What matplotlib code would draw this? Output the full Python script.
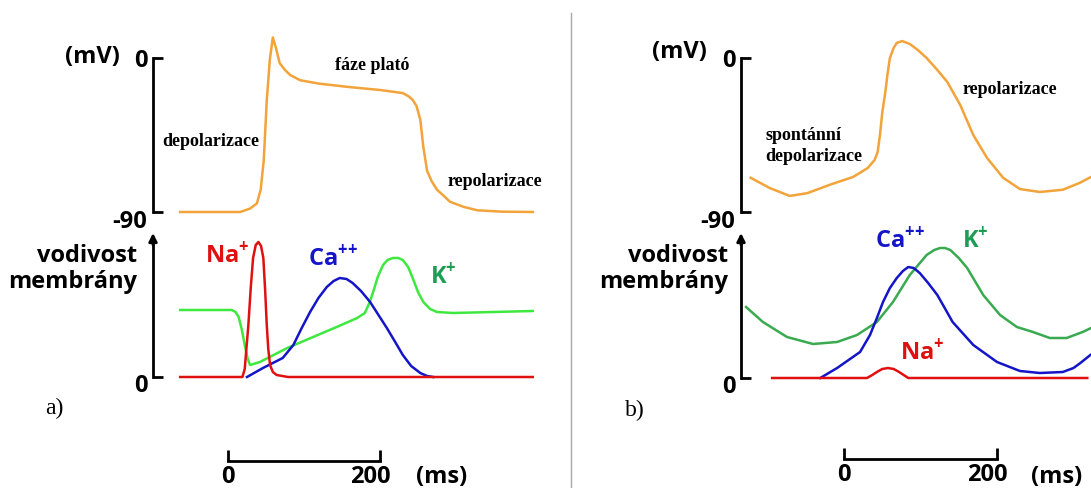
import matplotlib.pyplot as plt
import matplotlib.transforms as mtransforms
from matplotlib.lines import Line2D

W, H = 1091, 488

# a) working myocardium -- membrane potential (ms, mV)
a_t = [-63, 16, 29, 38, 43, 47, 51, 55, 59, 63, 68, 75, 82, 95, 120, 160, 200,
       230, 238, 243, 248, 253, 257, 262, 268, 275, 285, 292, 310, 328, 360, 401]
a_mv = [-90, -90, -88, -85, -77, -60, -25, -1, 12, 6, -3, -7, -10, -13, -15, -17,
        -18.7, -20.5, -22.5, -24.5, -28, -36, -52, -66, -72, -77, -81, -84, -87,
        -89, -89.8, -90]

# a) conductances (arbitrary units)
a_na_t = [-63, 19, 22, 26.8, 30, 33, 36.5, 40, 43.5, 46.5, 49, 51, 53, 55.3, 59, 64, 79, 401]
a_na = [0, 0, 0.08, 0.52, 0.9, 1.19, 1.32, 1.35, 1.31, 1.19, 0.85, 0.52, 0.28, 0.12,
        0.05, 0.02, 0, 0]
a_k_t = [-63, 5, 10, 14, 18, 22, 26, 29, 42, 78, 112, 143, 170, 180, 186, 191, 197,
         204, 210, 217, 224, 230, 237, 243, 250, 257, 266, 275, 296, 401]
a_k = [0.67, 0.67, 0.65, 0.60, 0.48, 0.32, 0.18, 0.12, 0.15, 0.29, 0.40, 0.50, 0.59,
       0.64, 0.74, 0.85, 1.0, 1.12, 1.17, 1.19, 1.19, 1.17, 1.10, 0.99, 0.85, 0.75,
       0.68, 0.65, 0.64, 0.66]
a_ca_t = [25, 46, 72, 86, 97, 108, 119, 130, 139, 147, 156, 164, 175, 187, 198, 209,
          220, 230, 241, 253, 262, 270]
a_ca = [0, 0.09, 0.19, 0.32, 0.49, 0.65, 0.79, 0.90, 0.96, 0.99, 0.98, 0.94, 0.86,
        0.75, 0.62, 0.49, 0.35, 0.22, 0.11, 0.04, 0.01, 0]

# b) pacemaker cell -- membrane potential (ms, mV)
b_t = [-122, -97, -71, -48, -18, 12, 31, 40, 44, 47, 50, 54, 57, 60, 65, 69, 76, 86,
       97, 108, 122, 135, 152, 169, 187, 208, 230, 256, 286, 308, 323]
b_mv = [-70, -76, -80.6, -79, -74, -69.5, -64.3, -59.6, -55, -45, -32, -20, -9, 0, 6,
        8.8, 9.9, 8.2, 4.5, 0, -7, -14, -27.5, -45, -58.4, -70, -76.6, -78.3, -77,
        -73, -69.5]

# b) conductances
b_k_t = [-128, -106, -74.5, -40.5, -9, 17, 43, 64, 86, 108, 118, 125.5, 132, 139, 150,
         161, 182, 204, 226, 247, 269, 291, 312, 323]
b_k = [0.71, 0.56, 0.41, 0.34, 0.36, 0.43, 0.56, 0.76, 1.03, 1.23, 1.28, 1.30, 1.30,
       1.28, 1.20, 1.10, 0.83, 0.63, 0.51, 0.46, 0.40, 0.40, 0.46, 0.50]
b_ca_t = [-31, -9, 21, 34, 43, 51, 60, 69, 77, 84, 91, 99, 110, 122, 142, 169, 200,
          230, 256, 286, 300, 309, 322]
b_ca = [0, 0.10, 0.26, 0.43, 0.60, 0.76, 0.90, 1.00, 1.07, 1.11, 1.10, 1.05, 0.95,
        0.83, 0.56, 0.33, 0.16, 0.07, 0.05, 0.06, 0.10, 0.15, 0.23]
b_na_t = [-94, 30, 37, 43, 50, 57.5, 65, 72, 78, 84, 318]
b_na = [0, 0, 0.03, 0.06, 0.09, 0.10, 0.09, 0.06, 0.03, 0, 0]

scale_ms = [0, 200]

ORANGE = '#f2a33a'
RED = '#e01010'
BLUE = '#1515c8'
GREEN_A = '#3ee83e'
GREEN_B = '#3aaa50'
GREEN_TXT = '#1e9e55'

plt.rcParams['font.family'] = ['Open Sans', 'DejaVu Sans']
plt.rcParams['mathtext.fontset'] = 'custom'
plt.rcParams['mathtext.rm'] = 'Open Sans:bold'
plt.rcParams['mathtext.bf'] = 'Open Sans:bold'
SERIF = ['Liberation Serif', 'DejaVu Serif']

fig = plt.figure(figsize=(W / 100, H / 100), dpi=100)


def box(x0, y0, x1, y1):
    # axes from a pixel box (top-left origin)
    return fig.add_axes([x0 / W, 1 - y1 / H, (x1 - x0) / W, (y1 - y0) / H])


def ptext(x, y, s, **kw):
    fig.text(x / W, 1 - y / H, s, **kw)


def shift(label, dx, dy):
    # nudge a tick label by (dx, dy) points
    label.set_transform(label.get_transform() +
                        mtransforms.ScaledTranslation(dx / 72, dy / 72, fig.dpi_scale_trans))


def clean(ax):
    for s in ['top', 'right', 'bottom', 'left']:
        ax.spines[s].set_visible(False)
    ax.patch.set_alpha(0)
    ax.set_xticks([])
    ax.set_yticks([])


def panel(spine_x, zero_x, px_ms, base_y, bar_y):
    right = W if spine_x > 600 else 560
    xlim = ((spine_x - zero_x) / px_ms, (right - zero_x) / px_ms)
    mv_px = 90 / 154

    # membrane potential
    axv = box(spine_x, 25, right, 222)
    clean(axv)
    axv.set_xlim(xlim)
    axv.set_ylim(-(222 - 58) * mv_px, (58 - 25) * mv_px)
    axv.spines['left'].set_visible(True)
    axv.spines['left'].set_bounds(-90, 0)
    axv.spines['left'].set_linewidth(2)
    axv.set_yticks([-90, 0])
    axv.set_yticklabels(['-90', '0'], fontsize=17, fontweight='bold')
    axv.tick_params(axis='y', direction='in', length=7.5, width=2, pad=4)
    shift(axv.get_yticklabels()[0], 0, -5)

    # conductance
    axg = box(spine_x, 225, right, 395)
    clean(axg)
    axg.set_xlim(xlim)
    axg.set_ylim((base_y - 395) / 100, (base_y - 225) / 100)
    top = (base_y - 233) / 100
    axg.spines['left'].set_visible(True)
    axg.spines['left'].set_bounds(0, top - 0.06)
    axg.spines['left'].set_linewidth(2)
    axg.set_yticks([0])
    axg.set_yticklabels(['0'], fontsize=17, fontweight='bold')
    axg.tick_params(axis='y', direction='in', length=7.5, width=2, pad=4)
    shift(axg.get_yticklabels()[0], 0, -4)
    axg.annotate('', xy=(xlim[0], top), xytext=(xlim[0], top - 0.12),
                 arrowprops=dict(arrowstyle='-|>', color='k', lw=2,
                                 mutation_scale=12, shrinkA=0, shrinkB=0),
                 annotation_clip=False)

    # time scale bar
    axt = box(spine_x, bar_y - 20, right, bar_y)
    clean(axt)
    axt.set_xlim(xlim)
    axt.spines['bottom'].set_visible(True)
    axt.spines['bottom'].set_bounds(*scale_ms)
    axt.spines['bottom'].set_linewidth(2)
    axt.set_xticks(scale_ms)
    axt.set_xticklabels([str(v) for v in scale_ms], fontsize=17, fontweight='bold')
    axt.tick_params(axis='x', direction='in', length=8, width=2, pad=3)
    shift(axt.get_xticklabels()[1], -7, 0)
    return axv, axg


def ion(x, y, name, charge, color):
    sup = ''.join('{+}' for _ in range(charge))
    ptext(x, y, r'$\mathbf{%s}^{%s}$' % (name, sup), fontsize=17,
          color=color, va='center')


lw = 1.8

# ---- panel a)
axv, axg = panel(153, 228, 0.76, 377, 461)
axv.plot(a_t, a_mv, color=ORANGE, lw=lw, clip_on=False)
axg.plot(a_k_t, a_k, color=GREEN_A, lw=lw, clip_on=False)
axg.plot(a_ca_t, a_ca, color=BLUE, lw=lw, clip_on=False)
axg.plot(a_na_t, a_na, color=RED, lw=lw, clip_on=False)

ptext(92, 57, '(mV)', fontsize=17, fontweight='bold', ha='center', va='center')
ptext(137, 269, 'vodivost\nmembrány', fontsize=17, fontweight='bold', ha='right',
      va='center', multialignment='right', linespacing=1.15)
ptext(162, 142, 'depolarizace', family=SERIF, fontsize=13, fontweight='bold', va='center')
ptext(335, 65, 'fáze plató', family=SERIF, fontsize=13, fontweight='bold', va='center')
ptext(448, 182, 'repolarizace', family=SERIF, fontsize=13, fontweight='bold', va='center')
ion(205, 256, 'Na', 1, RED)
ion(308, 259, 'Ca', 2, BLUE)
ion(430, 277, 'K', 1, GREEN_TXT)
ptext(45, 408, 'a)', family=SERIF, fontsize=17, va='center')
ptext(442, 477, '(ms)', fontsize=17, fontweight='bold', ha='center', va='center')

# ---- panel b)
axv, axg = panel(741, 844, 0.765, 378, 459)
axv.plot(b_t, b_mv, color=ORANGE, lw=lw, clip_on=False)
axg.plot(b_k_t, b_k, color=GREEN_B, lw=lw, clip_on=False)
axg.plot(b_ca_t, b_ca, color=BLUE, lw=lw, clip_on=False)
axg.plot(b_na_t, b_na, color=RED, lw=lw, clip_on=False)

ptext(679, 52, '(mV)', fontsize=17, fontweight='bold', ha='center', va='center')
ptext(728, 269, 'vodivost\nmembrány', fontsize=17, fontweight='bold', ha='right',
      va='center', multialignment='right', linespacing=1.15)
ptext(765, 146, 'spontánní\ndepolarizace', family=SERIF, fontsize=13, fontweight='bold',
      va='center', linespacing=1.3)
ptext(963, 90, 'repolarizace', family=SERIF, fontsize=13, fontweight='bold', va='center')
ion(875, 241, 'Ca', 2, BLUE)
ion(962, 241, 'K', 1, GREEN_TXT)
ion(900, 353, 'Na', 1, RED)
ptext(625, 410, 'b)', family=SERIF, fontsize=17, va='center')
ptext(1057, 477, '(ms)', fontsize=17, fontweight='bold', ha='center', va='center')

# divider between the panels
fig.add_artist(Line2D([571 / W, 571 / W], [0, 1 - 13 / H], color='#a8a8a8', lw=1))

fig.savefig('out.png', dpi=100)
